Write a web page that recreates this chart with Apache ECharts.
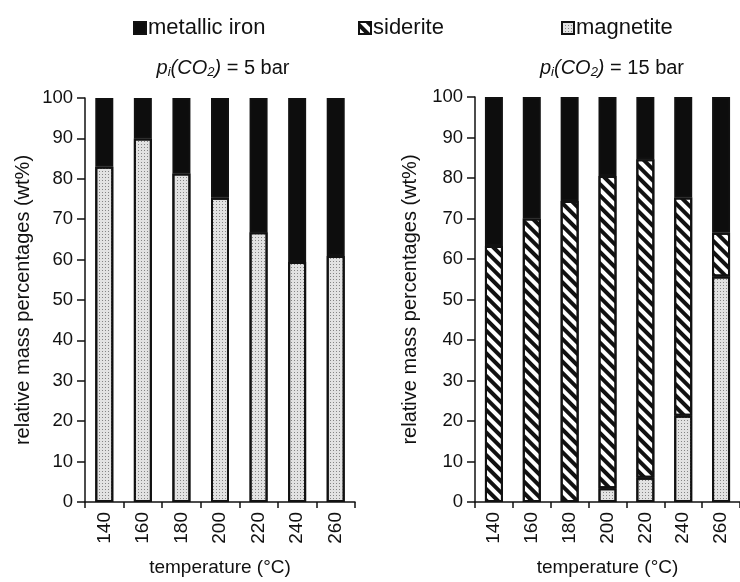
<!DOCTYPE html>
<html>
<head>
<meta charset="utf-8">
<script src="https://cdn.jsdelivr.net/npm/echarts@6/dist/echarts.min.js"></script>
<style>html,body{margin:0;padding:0;background:#fff}#c{width:740px;height:582px}</style>
</head>
<body>
<div id="c"></div>
<script>
const temperatures = ['140','160','180','200','220','240','260'];
// p(CO2) = 5 bar
const leftMagnetite = [83, 90, 81.3, 75.3, 66.8, 59.4, 60.9];
const leftSiderite  = ['-', '-', '-', '-', '-', '-', '-'];
const leftIron      = [17, 10, 18.7, 24.7, 33.2, 40.6, 39.1];
// p(CO2) = 15 bar
const rightMagnetite = ['-', '-', '-', 3.4, 6, 21.3, 55.7];
const rightSiderite  = [63.2, 70, 74.3, 77.1, 78.6, 53.9, 10.8];
const rightIron      = [36.8, 30, 25.7, 19.5, 15.4, 24.8, 33.5];
const yTicks = [0, 10, 20, 30, 40, 50, 60, 70, 80, 90, 100];

const FONT = '"Liberation Sans", Arial, sans-serif';
const INK = '#111';

const magStyle = {
  color: '#e2e2e2', borderColor: INK, borderWidth: 2,
  decal: { symbol: 'rect', symbolSize: 1, color: '#858585', dashArrayX: [1, 2], dashArrayY: [1, 2] }
};
const sidStyle = {
  color: '#ffffff', borderColor: INK, borderWidth: 2,
  decal: { symbol: 'rect', symbolSize: 1, color: '#111', dashArrayX: [1, 0], dashArrayY: [3.5, 3.5], rotation: Math.PI / 4 }
};
const ironStyle = { color: '#0d0d0d', borderColor: INK, borderWidth: 2 };

function xAx(idx) {
  return {
    type: 'category', gridIndex: idx, data: temperatures,
    axisLine: { lineStyle: { color: INK, width: 1.5 } },
    axisTick: { show: true, length: 6, lineStyle: { color: INK, width: 1.5 } },
    axisLabel: { rotate: 90, fontSize: 19, color: INK, fontFamily: FONT, margin: 10 },
    name: 'temperature (°C)', nameLocation: 'middle', nameGap: 56,
    nameTextStyle: { fontSize: 19, color: INK, fontFamily: FONT }
  };
}
function yAx(idx, gap) {
  return {
    type: 'value', gridIndex: idx, min: 0, max: 100, interval: 10,
    axisLine: { show: true, lineStyle: { color: INK, width: 1.5 } },
    axisTick: { show: true, length: 8, lineStyle: { color: INK, width: 1.5 } },
    axisLabel: { fontSize: 18.5, color: INK, fontFamily: FONT, margin: 12,
      formatter: v => (yTicks.indexOf(v) >= 0 ? String(v) : '') },
    splitLine: { show: false },
    name: 'relative mass percentages (wt%)', nameLocation: 'middle', nameGap: gap,
    nameTextStyle: { fontSize: 20, color: INK, fontFamily: FONT }
  };
}
function bar(name, data, idx, style) {
  return { name: name, type: 'bar', stack: 's' + idx, xAxisIndex: idx, yAxisIndex: idx,
    data: data, barWidth: 18, itemStyle: style, emphasis: { disabled: true } };
}
const titleRich = {
  it: { fontStyle: 'italic', fontWeight: 'normal', fontSize: 20, fontFamily: FONT, color: INK },
  sub: { fontStyle: 'italic', fontWeight: 'normal', fontSize: 13, fontFamily: FONT, color: INK, padding: [9, 0, 0, 0] },
  n: { fontWeight: 'normal', fontSize: 20, fontFamily: FONT, color: INK }
};
const titleText = p => '{it|p}{sub|i}{it|(CO}{sub|2}{it|)}{n| = ' + p + ' bar}';

const legendBase = { top: 12, itemWidth: 12, itemHeight: 12, itemGap: 4, icon: 'rect',
  textStyle: { fontSize: 22, color: INK, fontFamily: FONT, padding: [0, 0, 0, -3] }, selectedMode: false };

const chart = echarts.init(document.getElementById('c'), null, { renderer: 'canvas' });
chart.setOption({
  animation: false,
  backgroundColor: '#fff',
  title: [
    { text: titleText(5), left: 218, top: 52, textAlign: 'center', textStyle: { fontWeight: 'normal', rich: titleRich } },
    { text: titleText(15), left: 607, top: 52, textAlign: 'center', textStyle: { fontWeight: 'normal', rich: titleRich } }
  ],
  legend: [
    Object.assign({}, legendBase, { left: 128, data: ['metallic iron'] }),
    Object.assign({}, legendBase, { left: 353, data: ['siderite'] }),
    Object.assign({}, legendBase, { left: 556, data: ['magnetite'] })
  ],
  grid: [
    { left: 85, right: 385, top: 98, bottom: 77 },
    { left: 475, right: -12, top: 97, bottom: 74 }
  ],
  xAxis: [xAx(0), xAx(1)],
  yAxis: [yAx(0, 52), yAx(1, 55)],
  series: [
    bar('magnetite', leftMagnetite, 0, magStyle),
    bar('siderite', leftSiderite, 0, sidStyle),
    bar('metallic iron', leftIron, 0, ironStyle),
    bar('magnetite', rightMagnetite, 1, magStyle),
    bar('siderite', rightSiderite, 1, sidStyle),
    bar('metallic iron', rightIron, 1, ironStyle)
  ]
});
</script>
</body>
</html>
